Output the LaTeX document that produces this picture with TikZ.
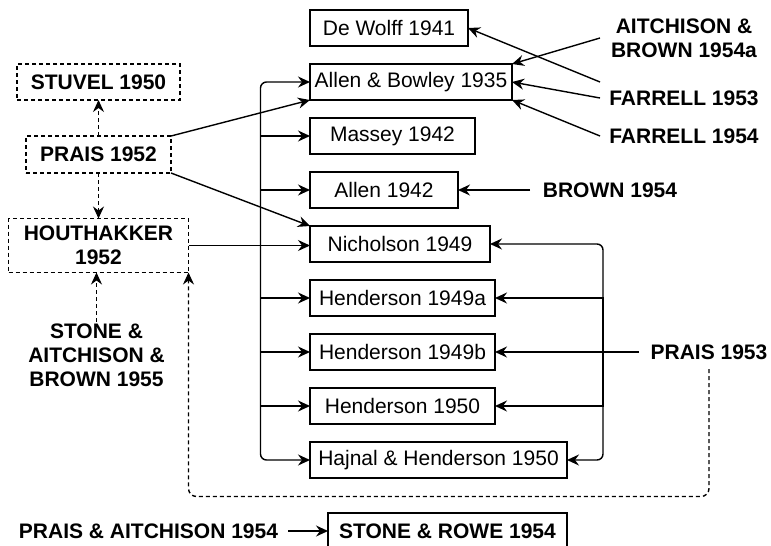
\documentclass[tikz,border=0pt]{standalone}
\usepackage{fontspec}
\setmainfont{Liberation Sans}
\usetikzlibrary{positioning,arrows.meta,calc}

\begin{document}
\begin{tikzpicture}[x=1pt, y=-1pt,
  box/.style={draw, line width=1.4pt, outer sep=0pt, minimum height=36pt, inner sep=2pt, font=\fontsize{21}{24}\selectfont, align=center},
  dbox/.style={box, dash pattern=on 4pt off 3pt, font=\fontsize{21}{24}\selectfont\bfseries},
  lab/.style={font=\fontsize{21}{24}\selectfont\bfseries, align=center, inner sep=2pt, outer sep=0pt},
  arr/.style={-{Stealth[length=12pt, width=11pt, inset=4pt]}, line width=1.4pt},
  darr/.style={arr, dash pattern=on 4pt off 3pt}]
\useasboundingbox (0,0) rectangle (771,546);
% column of studies
\node[box, anchor=north west, minimum width=158pt] (dewolff) at (310,10) {De Wolff 1941};
\node[box, below=18pt of dewolff.south west, anchor=north west, minimum width=202pt] (allenb) {Allen \& Bowley 1935};
\node[box, below=18pt of allenb.south west, anchor=north west, minimum width=165pt] (massey) {Massey 1942};
\node[box, below=18pt of massey.south west, anchor=north west, minimum width=148pt] (allen42) {Allen 1942};
\node[box, below=18pt of allen42.south west, anchor=north west, minimum width=180pt] (nich) {Nicholson 1949};
\node[box, below=18pt of nich.south west, anchor=north west, minimum width=185pt] (hend49a) {Henderson 1949a};
\node[box, below=18pt of hend49a.south west, anchor=north west, minimum width=185pt] (hend49b) {Henderson 1949b};
\node[box, below=18pt of hend49b.south west, anchor=north west, minimum width=185pt] (hend50) {Henderson 1950};
\node[box, below=18pt of hend50.south west, anchor=north west, minimum width=257pt] (hajnal) {Hajnal \& Henderson 1950};
% left side
\node[dbox, minimum width=145pt, minimum height=37pt] (prais52) at (98.5,154.5) {PRAIS 1952};
\node[dbox, above=36pt of prais52, minimum width=163pt] (stuvel) {STUVEL 1950};
\node[dbox, below=45.5pt of prais52, minimum width=180pt, minimum height=54pt] (hout) {HOUTHAKKER\\1952};
\node[lab, below=49pt of hout, xshift=-2pt] (stab) {STONE \&\\AITCHISON \&\\BROWN 1955};
% right side
\node[lab, anchor=west, minimum width=168pt] (aitbrown) at (600,38) {AITCHISON \&\\BROWN 1954a};
\node[lab, anchor=west, minimum width=168pt, minimum height=32pt] (farrell53) at (600,98) {FARRELL 1953};
\node[lab, anchor=west, minimum width=168pt] (farrell54) at (600,136) {FARRELL 1954};
\node[lab, anchor=west, minimum width=160pt] (brown54) at (530,190) {BROWN 1954};
\node[lab, minimum width=140pt, minimum height=34pt] (prais53) at (709,352) {PRAIS 1953};
% bottom row
\node[box, anchor=north west, minimum width=239pt, font=\fontsize{21}{24}\selectfont\bfseries] (stonerowe) at (328,513) {STONE \& ROWE 1954};
\node[lab, left=40pt of stonerowe, inner xsep=10pt] (praisait) {PRAIS \& AITCHISON 1954};
% junctions of the two buses
\coordinate (lj) at ($(hout.east)+(72pt,0)$);
\coordinate (rj) at ($(prais53.west)+(-36pt,0)$);
% dashed links on the left
\draw[darr] (prais52.north) -- (prais52.north |- stuvel.south);
\draw[darr] (prais52.south) -- (prais52.south |- hout.north);
\draw[darr] (stab.north) -- (stab.north |- hout.south);
\draw[arr] (prais52.north east) -- (allenb.south west);
\draw[arr] (prais52.south east) -- (nich.north west);
% left bus
\draw[arr] (hout.east) -- (nich.west |- hout.east);
\draw[arr, rounded corners=6pt] (lj) |- (allenb.west);
\draw[arr] (lj) |- (massey.west);
\draw[arr] (lj) |- (allen42.west);
\draw[arr] (lj) |- (hend49a.west);
\draw[arr] (lj) |- (hend49b.west);
\draw[arr] (lj) |- (hend50.west);
\draw[arr, rounded corners=6pt] (lj) |- (hajnal.west);
% right side links
\draw[arr] (aitbrown.west) -- (allenb.north east);
\draw[arr] (farrell53.north west) -- (dewolff.east);
\draw[arr] (farrell53.west) -- (allenb.east);
\draw[arr] (farrell54.west) -- (allenb.south east);
\draw[arr] (brown54.west) -- (allen42.east);
% right bus
\draw[arr] (prais53.west) -- (hend49b.east);
\draw[arr, rounded corners=6pt] (rj) |- (nich.east);
\draw[arr] (rj) |- (hend49a.east);
\draw[arr] (rj) |- (hend50.east);
\draw[arr, rounded corners=6pt] (rj) |- (hajnal.east);
\draw[darr, rounded corners=8pt] (prais53.south) |- ([yshift=-224pt]hout.south east) -- (hout.south east);
% bottom
\draw[arr] (praisait) -- (stonerowe);
\end{tikzpicture}
\end{document}
